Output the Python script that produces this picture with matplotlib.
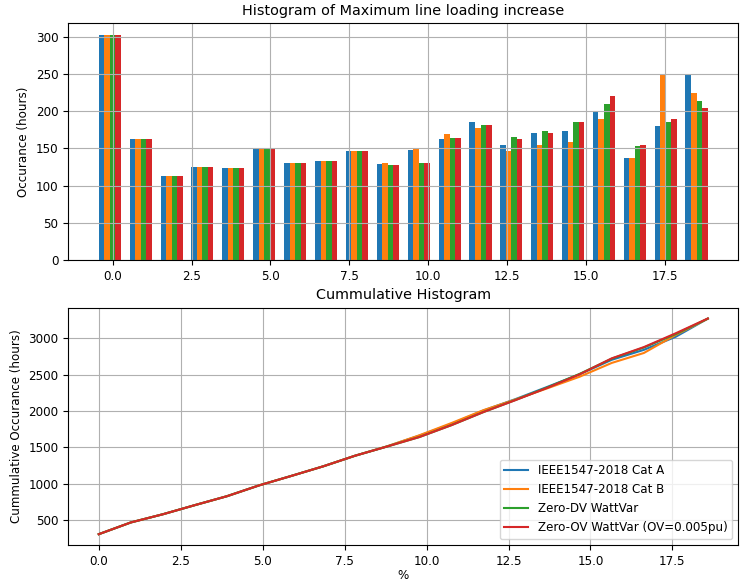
import numpy as np
import matplotlib
matplotlib.use('Agg')
import matplotlib.pyplot as plt

matplotlib.rcParams.update({'font.size': 8.6})

# Left edges of the loading-increase bins (%)
bin_edges = [0.0, 0.98, 1.96, 2.93, 3.91, 4.89, 5.87, 6.85, 7.82, 8.80,
             9.78, 10.76, 11.74, 12.71, 13.69, 14.67, 15.65, 16.63, 17.60, 18.58]

# Hours per bin for each control strategy
cat_a = [303, 162, 113, 125, 123, 149, 130, 133, 146, 129,
         148, 162, 185, 155, 170, 173, 199, 137, 180, 250]
cat_b = [303, 162, 113, 125, 123, 149, 130, 133, 146, 130,
         151, 169, 178, 146, 155, 159, 190, 137, 248, 224]
zero_dv = [303, 162, 113, 125, 123, 149, 130, 133, 146, 127,
           130, 164, 181, 165, 174, 186, 210, 153, 185, 213]
zero_ov = [303, 162, 113, 125, 123, 149, 130, 133, 146, 127,
           130, 164, 181, 163, 171, 185, 220, 155, 190, 204]

labels = ['IEEE1547-2018 Cat A', 'IEEE1547-2018 Cat B',
          'Zero-DV WattVar', 'Zero-OV WattVar (OV=0.005pu)']
series = [cat_a, cat_b, zero_dv, zero_ov]

x = np.array(bin_edges)
width = 0.175

fig = plt.figure(figsize=(7.44, 5.81), dpi=100)
ax1 = fig.add_axes([0.0918, 0.5525, 0.9002, 0.4075])
ax2 = fig.add_axes([0.0918, 0.062, 0.9005, 0.4084])

# grouped bars, one per strategy in each bin
for i, (s, lab) in enumerate(zip(series, labels)):
    ax1.bar(x + (i - 2) * width, s, width, label=lab)
ax1.set_title('Histogram of Maximum line loading increase')
ax1.set_ylabel('Occurance (hours)')
ax1.grid(True)

# running total of hours
for s, lab in zip(series, labels):
    ax2.plot(x, np.cumsum(s), label=lab)
ax2.set_title('Cummulative Histogram')
ax2.set_ylabel('Cummulative Occurance (hours)')
ax2.set_xlabel('%', labelpad=1)
ax2.grid(True)
ax2.legend(loc='lower right')

fig.savefig('out.png', dpi=100)
